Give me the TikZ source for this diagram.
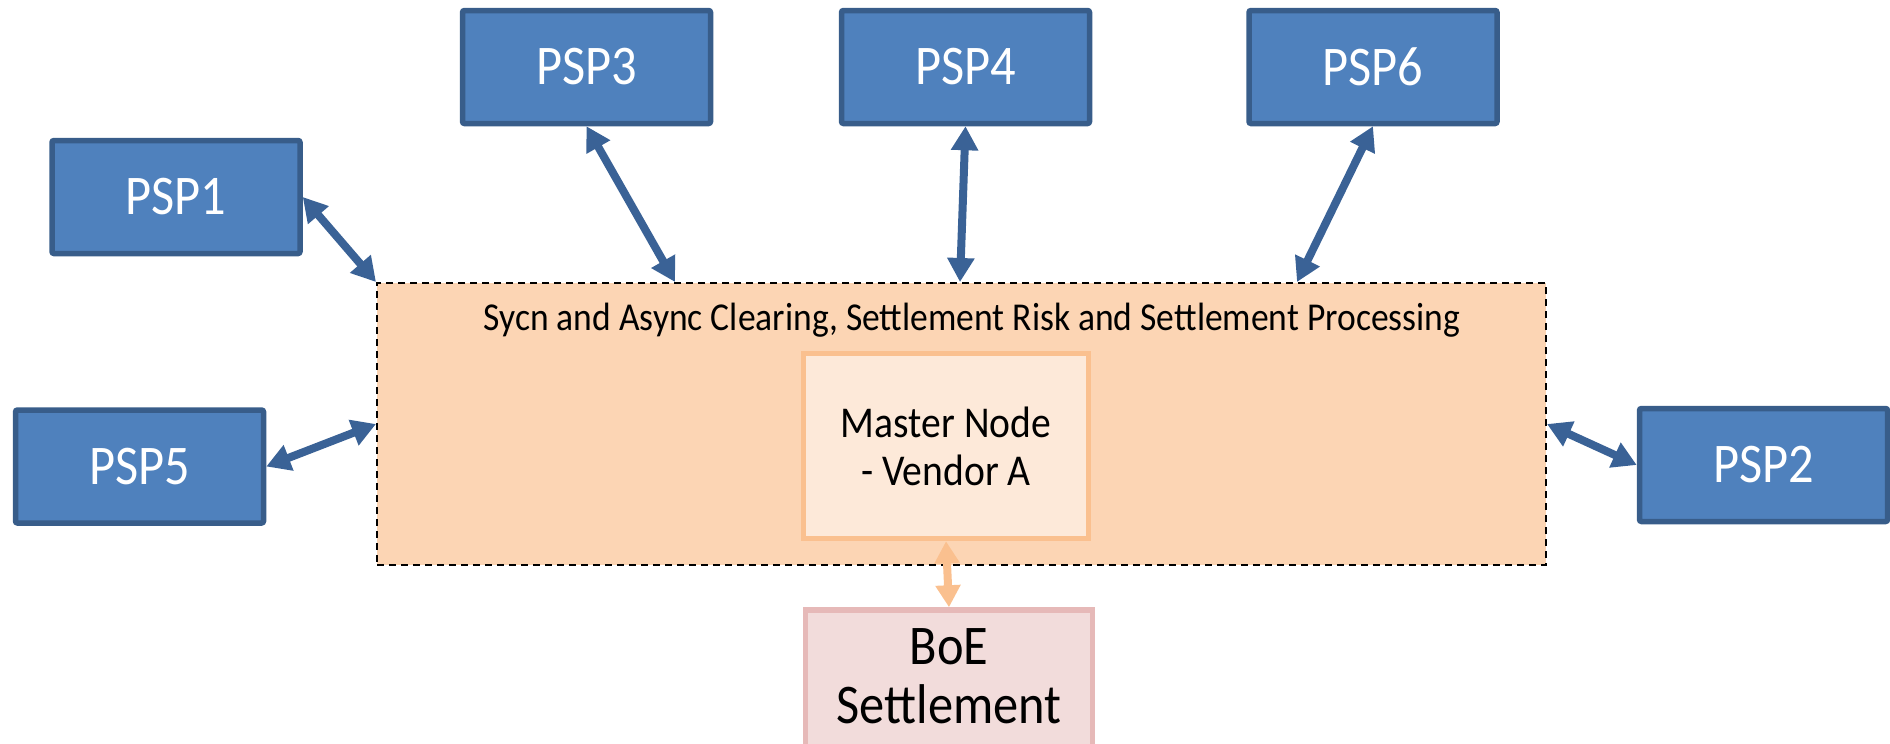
\documentclass[tikz,border=0pt]{standalone}
\usepackage{fontspec}
\setmainfont{Carlito}[FakeStretch=0.9]
\usetikzlibrary{arrows.meta}

\definecolor{pspfill}{HTML}{4F81BD}
\definecolor{pspline}{HTML}{385D8A}
\definecolor{linkblue}{HTML}{3A6296}
\definecolor{zonefill}{HTML}{FCD5B4}
\definecolor{masterfill}{HTML}{FDE9D9}
\definecolor{masterline}{HTML}{FAC08F}
\definecolor{boefill}{HTML}{F2DCDB}
\definecolor{boeline}{HTML}{E6B9B8}

\tikzset{
  pspbox/.style={draw=pspline, fill=pspfill, line width=5.5pt, rounded corners=2pt,
    minimum width=248pt, minimum height=113pt, inner sep=0pt, text=white,
    font=\fontsize{56}{60}\selectfont},
  zonebox/.style={draw=black, fill=zonefill, dash pattern=on 7pt off 5pt,
    line width=2pt, minimum width=1169pt, minimum height=282pt, inner sep=0pt},
  masterbox/.style={draw=masterline, fill=masterfill, line width=5.5pt,
    minimum width=285pt, minimum height=185pt, inner sep=0pt, align=center,
    font=\fontsize{44}{48}\selectfont},
  boebox/.style={draw=boeline, fill=boefill, line width=5.5pt,
    minimum width=287pt, minimum height=180pt, inner sep=0pt},
  link/.style={line width=8pt, draw=linkblue,
    {Triangle[length=24pt,width=26pt]}-{Triangle[length=24pt,width=26pt]}},
  boelink/.style={line width=8pt, draw=masterline,
    {Triangle[length=22pt,width=24pt]}-{Triangle[length=22pt,width=24pt]}}
}

\begin{document}
\begin{tikzpicture}[x=1pt,y=-1pt]
\useasboundingbox (0,0) rectangle (1890,744);

% central processing zone
\node[zonebox] (main) at (961.5,424) {};
\node[anchor=base, font=\fontsize{39.5}{44}\selectfont] (title) at (972,330)
  {Sycn and Async Clearing, Settlement Risk and Settlement Processing};

% master node and settlement box
\node[masterbox] (master) at (946,446) {Master Node\\- Vendor A};
\node[boebox] (boe) at (949,700) {};
\node[anchor=base, align=center, font=\fontsize{56}{59}\selectfont] (boetext) at (949,723)
  {BoE\\Settlement};

% payment service providers
\node[pspbox] (psp1) at (176,197) {PSP1};
\node[pspbox] (psp3) at (586.5,67) {PSP3};
\node[pspbox] (psp4) at (965.5,67) {PSP4};
\node[pspbox] (psp6) at (1373,67) {PSP6};
\node[pspbox] (psp5) at (139.5,466.5) {PSP5};
\node[pspbox] (psp2) at (1763.5,465) {PSP2};

% connectors
\draw[link] (psp1.east) -- (main.north west);
\draw[link] (psp3.south) -- ([xshift=299pt]main.north west);
\draw[link] (psp4.south) -- ([xshift=584pt]main.north west);
\draw[link] (psp6.south) -- ([xshift=921pt]main.north west);
\draw[link] (psp5.east) -- (main.west);
\draw[link] (psp2.west) -- (main.east);
\draw[boelink] (master.south) -- (boe.north);
\end{tikzpicture}
\end{document}
